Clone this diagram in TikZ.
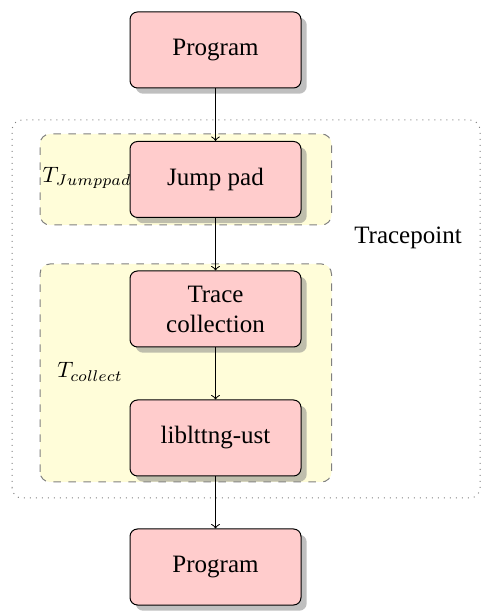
\documentclass[tikz,border=0pt]{standalone}
\usepackage{fontspec}
\setmainfont{Liberation Serif}
\usetikzlibrary{shadows}

\tikzset{
    stage/.style={draw, rounded corners=3pt, fill=red!20, align=center,
        minimum width=68.4pt, minimum height=30.4pt, drop shadow={opacity=0.5}},
    phase/.style={draw=gray, dashed, rounded corners=4pt, fill=yellow!15},
    region/.style={draw=gray, dotted, rounded corners=4pt},
    tlabel/.style={scale=0.89}
}

\begin{document}
\begin{tikzpicture}[x=0.4pt, y=0.4pt]
    \useasboundingbox (0,0) rectangle (480,611);

    % Tracepoint region
    \draw[region] (12,113) rectangle (480,491);
    \node (tplabel) at (408,373) {Tracepoint};

    % Phases
    \draw[phase] (40,386) rectangle (331.5,477);
    \draw[phase] (40,129) rectangle (331.5,347);

    % Stages
    \node[stage] (prog1) at (215.5,561) {Program};
    \node[stage] (jump) at (215.5,431.5) {Jump pad};
    \node[stage] (trace) at (215.5,302) {Trace\\collection};
    \node[stage] (lib) at (215.5,173) {liblttng-ust};
    \node[stage] (prog2) at (215.5,44) {Program};

    % Phase labels
    \node[tlabel, anchor=east, inner sep=0pt] (tjump) at (132,433) {$T_{Jumppad}$};
    \node[tlabel] (tcollect) at (90,239) {$T_{collect}$};

    % Flow
    \draw[->] (prog1) -- (jump);
    \draw[->] (jump) -- (trace);
    \draw[->] (trace) -- (lib);
    \draw[->] (lib) -- (prog2);
\end{tikzpicture}
\end{document}
